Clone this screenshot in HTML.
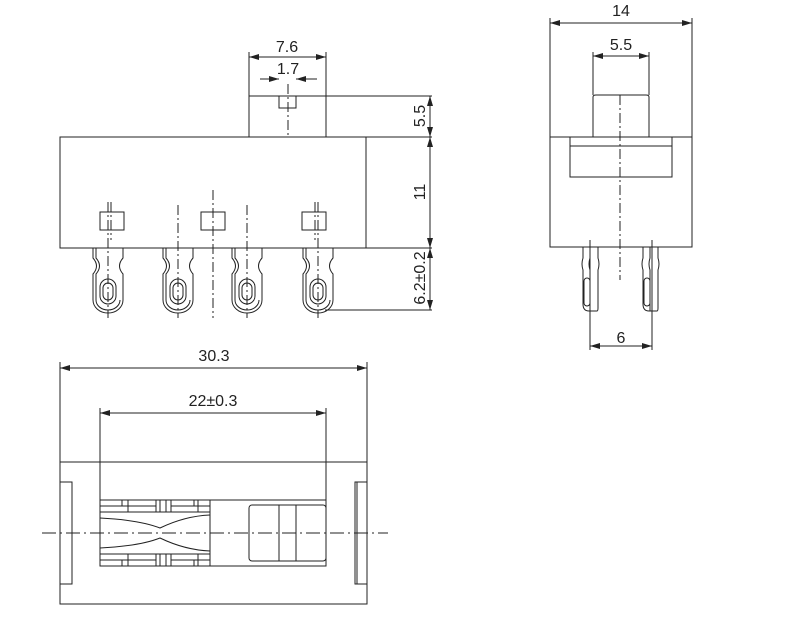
<!DOCTYPE html>
<html><head><meta charset="utf-8"><style>
html,body{margin:0;padding:0;background:#fff;}
svg{display:block;}
text{font-family:"Liberation Sans",sans-serif;font-size:16px;fill:#222;}
</style></head><body>
<svg width="800" height="621" viewBox="0 0 800 621" xmlns="http://www.w3.org/2000/svg">
<defs>
<marker id="a" viewBox="0 0 10 6" refX="10" refY="3" markerWidth="10" markerHeight="6" orient="auto-start-reverse" markerUnits="userSpaceOnUse"><path d="M0,0 L10,3 L0,6 z" fill="#222"/></marker>
<g id="term" fill="none" stroke="#222" stroke-width="1">
<path d="M-15,248 V258 Q-8,266 -15,274 V300 A15,13 0 0 0 15,300 V274 Q8,266 15,258 V248"/>
<path d="M-12,248 V258 Q-5,266 -12,274 V300 A12,10 0 0 0 12,300"/>
<rect x="-8" y="279" width="16" height="25" rx="8"/>
<rect x="-5" y="283" width="10" height="17" rx="5"/>
</g>
<g id="st" fill="none" stroke="#222" stroke-width="1">
<path d="M0,247 V258 Q-2,264 0,270 V304 Q0,311 6,311 H14 Q15,311 15,308 V270 Q17,264 15,258 V247"/>
<path d="M7,247 V258 Q5,264 7,270 V311"/>
<rect x="1" y="278" width="6" height="28" rx="3"/>
</g>
</defs>
<g fill="none" stroke="#222" stroke-width="1">
<!-- Front view -->
<rect x="60" y="137" width="306" height="111"/>
<line x1="366" y1="137" x2="432" y2="137"/>
<line x1="366" y1="248" x2="432" y2="248"/>
<rect x="249" y="96" width="77" height="41"/>
<line x1="326" y1="96" x2="432" y2="96"/>
<rect x="279" y="96" width="17" height="12"/>
<line x1="249" y1="52" x2="249" y2="96"/><line x1="326" y1="52" x2="326" y2="96"/>
<line x1="249" y1="57" x2="326" y2="57" marker-start="url(#a)" marker-end="url(#a)"/>
<line x1="260" y1="79" x2="279" y2="79" marker-end="url(#a)"/>
<line x1="317" y1="79" x2="296" y2="79" marker-end="url(#a)"/>
<line x1="430" y1="96" x2="430" y2="137" marker-start="url(#a)" marker-end="url(#a)"/>
<line x1="430" y1="137" x2="430" y2="248" marker-start="url(#a)" marker-end="url(#a)"/>
<line x1="430" y1="248" x2="430" y2="310" marker-start="url(#a)" marker-end="url(#a)"/>
<line x1="325" y1="310" x2="432" y2="310"/>
<rect x="100" y="212" width="24" height="18"/>
<rect x="201" y="212" width="24" height="18"/>
<rect x="302" y="212" width="24" height="18"/>
<use href="#term" x="108"/><use href="#term" x="178"/><use href="#term" x="247"/><use href="#term" x="318"/>
<g stroke-dasharray="10,3,2,3">
<line x1="288" y1="84" x2="288" y2="137"/>
<line x1="108" y1="202" x2="108" y2="318"/><line x1="111" y1="202" x2="111" y2="240"/>
<line x1="178" y1="205" x2="178" y2="318"/>
<line x1="213" y1="190" x2="213" y2="318"/>
<line x1="247" y1="205" x2="247" y2="318"/>
<line x1="315" y1="202" x2="315" y2="240"/><line x1="318" y1="202" x2="318" y2="318"/>
</g>
<!-- Side view -->
<rect x="550" y="137" width="142" height="110"/>
<path d="M593,137 V97 Q593,95 596,95 H646 Q649,95 649,97 V137"/>
<rect x="570" y="137" width="102" height="40"/>
<line x1="570" y1="146" x2="672" y2="146"/>
<line x1="550" y1="18" x2="550" y2="137"/><line x1="692" y1="18" x2="692" y2="137"/>
<line x1="550" y1="23" x2="692" y2="23" marker-start="url(#a)" marker-end="url(#a)"/>
<line x1="593" y1="52" x2="593" y2="95"/><line x1="649" y1="52" x2="649" y2="95"/>
<line x1="593" y1="56" x2="649" y2="56" marker-start="url(#a)" marker-end="url(#a)"/>
<line x1="620" y1="95" x2="620" y2="280" stroke-dasharray="10,3,2,3"/>
<use href="#st" x="583"/><use href="#st" x="643"/>
<line x1="590" y1="240" x2="590" y2="350"/><line x1="652" y1="240" x2="652" y2="350"/>
<line x1="590" y1="346" x2="652" y2="346" marker-start="url(#a)" marker-end="url(#a)"/>
<!-- Bottom view -->
<rect x="60" y="462" width="307" height="142"/>
<line x1="60" y1="362" x2="60" y2="462"/><line x1="367" y1="362" x2="367" y2="462"/>
<line x1="60" y1="368" x2="367" y2="368" marker-start="url(#a)" marker-end="url(#a)"/>
<line x1="100" y1="408" x2="100" y2="500"/><line x1="326" y1="408" x2="326" y2="500"/>
<line x1="100" y1="413" x2="326" y2="413" marker-start="url(#a)" marker-end="url(#a)"/>
<rect x="60" y="482" width="12" height="102"/>
<rect x="355" y="482" width="12" height="102"/>
<line x1="357" y1="482" x2="357" y2="584"/>
<rect x="100" y="500" width="226" height="66"/>
<line x1="210" y1="500" x2="210" y2="566"/>
<rect x="249" y="505" width="77" height="56" rx="3"/>
<line x1="279" y1="505" x2="279" y2="561"/><line x1="296" y1="505" x2="296" y2="561"/>
<path d="M100,506 H122 V500 M122,506 H128 M128,500 V512 M128,506 H156 V500 M156,512 V500 M160,512 V500 M166,512 V500 M171,500 V512 M171,506 H194 V500 M194,506 H210 M198,500 V512 M100,512 H210"/>
<path d="M100,518 Q140,520 160,528 Q185,516 210,515"/>
<path d="M100,560 H122 V566 M122,560 H128 M128,566 V554 M128,560 H156 V566 M156,554 V566 M160,554 V566 M166,554 V566 M171,566 V554 M171,560 H194 V566 M194,560 H210 M198,566 V554 M100,554 H210"/>
<path d="M100,548 Q140,546 160,538 Q185,550 210,551"/>
<line x1="42" y1="533" x2="388" y2="533" stroke-dasharray="14,4,2,4"/>
</g>
<text x="287" y="52" text-anchor="middle">7.6</text>
<text x="288" y="74" text-anchor="middle">1.7</text>
<text x="621" y="16" text-anchor="middle">14</text>
<text x="621" y="50" text-anchor="middle">5.5</text>
<text x="621" y="343" text-anchor="middle">6</text>
<text x="214" y="361" text-anchor="middle">30.3</text>
<text x="213" y="406" text-anchor="middle">22±0.3</text>
<text transform="translate(425,116) rotate(-90)" text-anchor="middle">5.5</text>
<text transform="translate(425,192) rotate(-90)" text-anchor="middle">11</text>
<text transform="translate(425,278) rotate(-90)" text-anchor="middle">6.2±0.2</text>
</svg>
</body></html>
